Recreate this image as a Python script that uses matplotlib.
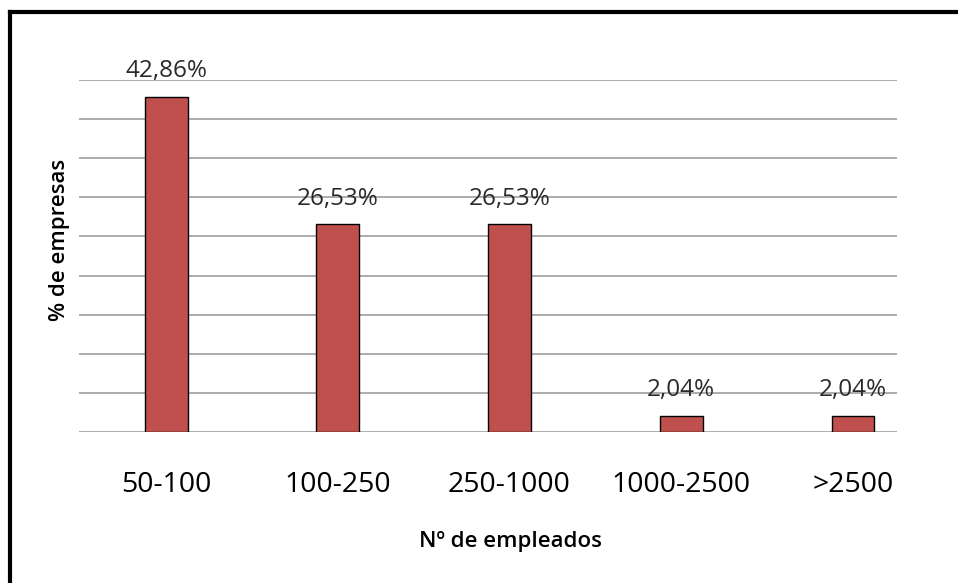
import matplotlib.pyplot as plt
from matplotlib.lines import Line2D

categorias = ['50-100', '100-250', '250-1000', '1000-2500', '>2500']
porcentajes = [42.86, 26.53, 26.53, 2.04, 2.04]
etiquetas = ['42,86%', '26,53%', '26,53%', '2,04%', '2,04%']

plt.rcParams['font.family'] = ['Open Sans', 'DejaVu Sans']

fig = plt.figure(figsize=(9.58, 5.83), dpi=100)
ax = fig.add_axes([0.0825, 0.259, 0.8538, 0.6038])

x = list(range(len(categorias)))
ax.bar(x, porcentajes, width=0.25, color='#C0504D', edgecolor='black', linewidth=1, zorder=3)

for xi, v, txt in zip(x, porcentajes, etiquetas):
    ax.annotate(txt, (xi, v), xytext=(0, 10), textcoords='offset points',
                ha='center', va='bottom', fontsize=17.5, color='#2a2a2a')

ax.set_xlim(-0.507, 4.256)
ax.set_ylim(0, 45)
ax.set_yticks(range(0, 50, 5))
ax.set_yticklabels([])
ax.yaxis.grid(True, color='#969696', linewidth=1.1)
ax.set_axisbelow(True)
ax.tick_params(axis='both', length=0)
ax.set_xticks(x)
ax.set_xticklabels(categorias, fontsize=20.5)
ax.tick_params(axis='x', pad=28)
for s in ax.spines.values():
    s.set_visible(False)

ax.set_xlabel('Nº de empleados', fontsize=16, fontweight='semibold')
ax.xaxis.set_label_coords(0.527, -0.28)
ax.set_ylabel('% de empresas', fontsize=16, fontweight='semibold')
ax.yaxis.set_label_coords(-0.011, 0.545)

# marco del gráfico (solo izquierda y arriba visibles)
fig.add_artist(Line2D([0.0104, 0.0104], [0, 0.98], transform=fig.transFigure, color='black', linewidth=3))
fig.add_artist(Line2D([0.0104, 1.0], [0.98, 0.98], transform=fig.transFigure, color='black', linewidth=3))

fig.savefig('out.png', dpi=100)
